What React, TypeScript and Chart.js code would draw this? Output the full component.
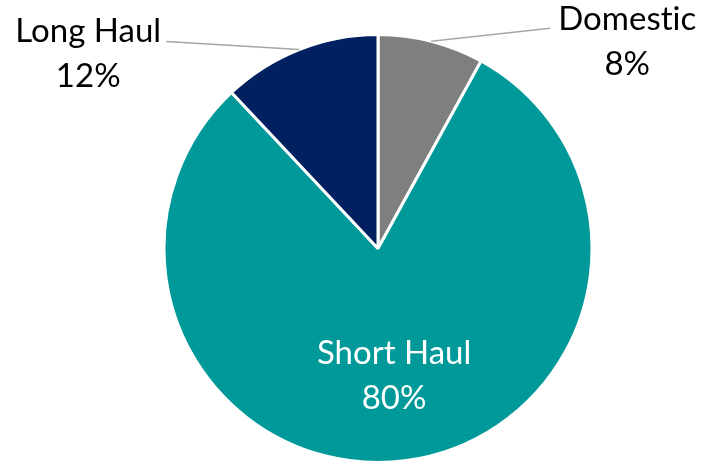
import React, { useEffect, useRef } from "react";
import { Chart, registerables } from "chart.js";

Chart.register(...registerables);

const categories = ["Domestic", "Short Haul", "Long Haul"];
const shares = [8, 80, 12];
const percentLabels = ["8%", "80%", "12%"];
const colors = ["#7F7F7F", "#009999", "#002060"];

const FONT_FAMILY = "Lato, 'Open Sans', sans-serif";
const FONT_SIZE = 33;
const LINE_GAP = 45;

// label placement: inside (fraction of radius) or outside (offset from arc edge midpoint)
const labelPlacement: Record<number, { inside?: number; dx?: number; dy?: number; lx?: number; ly?: number }> = {
  0: { dx: 196, dy: 1, lx: 119, ly: -13 },
  1: { inside: 0.6 },
  2: { dx: -211, dy: 4, lx: -133, ly: -8 },
};

const labelPlugin = {
  id: "pieLabels",
  afterDatasetsDraw(chart: any) {
    const ctx = chart.ctx;
    const meta = chart.getDatasetMeta(0);
    ctx.save();
    ctx.font = `${FONT_SIZE}px ${FONT_FAMILY}`;
    ctx.textAlign = "center";
    ctx.textBaseline = "middle";
    try {
      (ctx as any).letterSpacing = "0.01px";
    } catch (e) {}
    meta.data.forEach((arc: any, i: number) => {
      const p = labelPlacement[i];
      const { x, y, startAngle, endAngle, outerRadius } = arc.getProps(
        ["x", "y", "startAngle", "endAngle", "outerRadius"],
        true
      );
      const mid = (startAngle + endAngle) / 2;
      let cx: number, cy: number;
      if (p.inside !== undefined) {
        cx = x + Math.cos(mid) * outerRadius * p.inside;
        cy = y + Math.sin(mid) * outerRadius * p.inside;
        ctx.fillStyle = "#FFFFFF";
      } else {
        const ex = x + Math.cos(mid) * outerRadius;
        const ey = y + Math.sin(mid) * outerRadius;
        cx = ex + (p.dx || 0);
        cy = ey + (p.dy || 0);
        ctx.strokeStyle = "#A6A6A6";
        ctx.lineWidth = 1.5;
        ctx.beginPath();
        ctx.moveTo(ex, ey);
        ctx.lineTo(ex + (p.lx || 0), ey + (p.ly || 0));
        ctx.stroke();
        ctx.fillStyle = "#000000";
      }
      ctx.fillText(categories[i], cx, cy - LINE_GAP / 2);
      ctx.fillText(percentLabels[i], cx, cy + LINE_GAP / 2);
    });
    ctx.restore();
  },
};

export default function App() {
  const ref = useRef<HTMLCanvasElement>(null);
  useEffect(() => {
    document.body.style.margin = "0";
    const chart = new Chart(ref.current as HTMLCanvasElement, {
      type: "pie",
      data: {
        labels: categories,
        datasets: [
          {
            data: shares,
            backgroundColor: colors,
            borderColor: "#FFFFFF",
            borderWidth: 3,
            hoverOffset: 0,
          },
        ],
      },
      options: {
        responsive: false,
        animation: false,
        layout: { padding: { top: 33, bottom: 0, left: 54, right: 0 } },
        plugins: {
          legend: { display: false },
          tooltip: { enabled: false },
        },
      },
      plugins: [labelPlugin],
    });
    return () => chart.destroy();
  }, []);
  return (
    <div style={{ width: 702, height: 464, background: "#FFFFFF" }}>
      <canvas ref={ref} width={702} height={464} style={{ display: "block" }} />
    </div>
  );
}
